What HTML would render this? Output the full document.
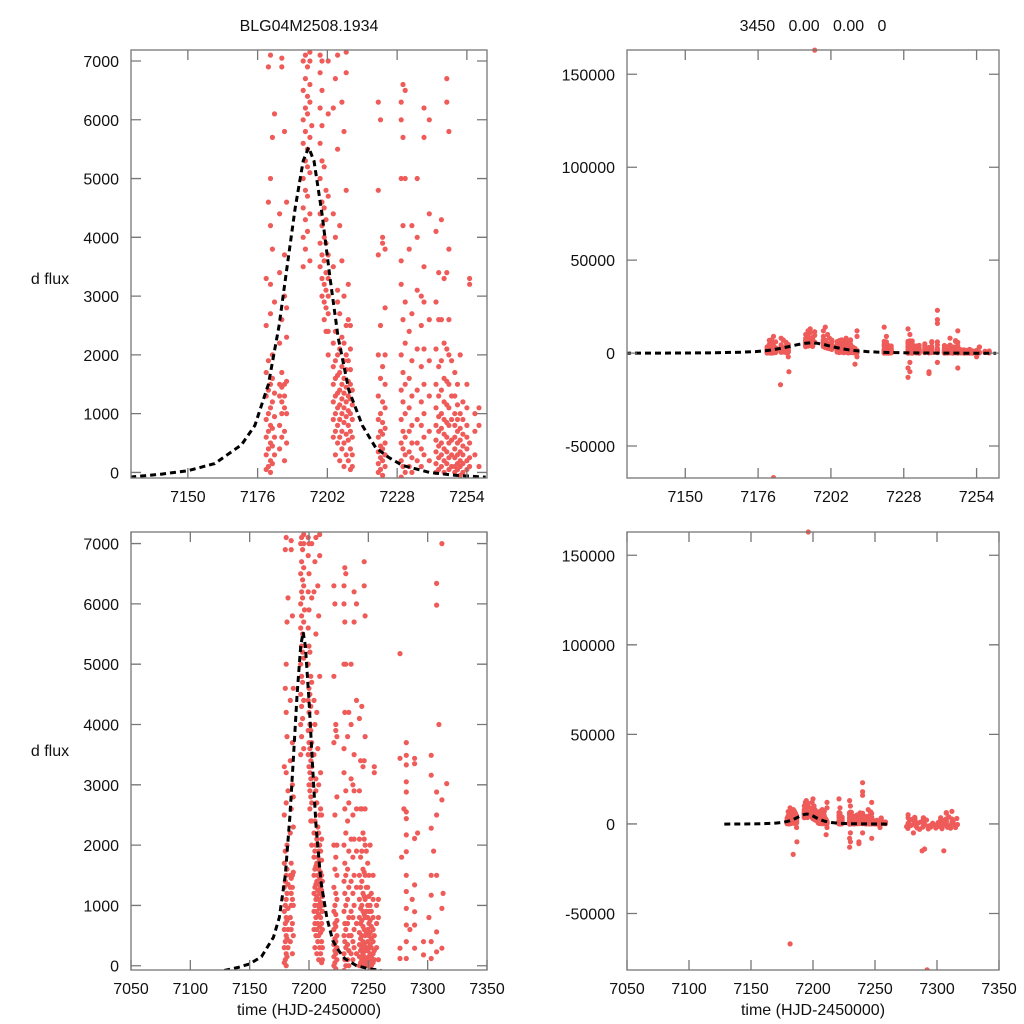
<!DOCTYPE html>
<html><head><meta charset="utf-8"><style>
html,body{margin:0;padding:0;background:#fff;overflow:hidden;width:1024px;height:1024px;}
svg{display:block;}
svg text{font-family:"Liberation Sans",Arial,sans-serif;fill:#111;}
</style></head><body>
<svg id="chart" width="1024" height="1024" viewBox="0 0 1024 1024" xmlns="http://www.w3.org/2000/svg">
<text x="309" y="31" font-size="16" text-anchor="middle">BLG04M2508.1934</text>
<text x="813" y="31" font-size="16" text-anchor="middle" xml:space="preserve">3450   0.00   0.00   0</text>
<text x="50" y="284" font-size="16" text-anchor="middle">d flux</text>
<text x="50" y="756" font-size="16" text-anchor="middle">d flux</text>
<text x="309" y="1015" font-size="16" text-anchor="middle">time (HJD-2450000)</text>
<text x="813" y="1015" font-size="16" text-anchor="middle">time (HJD-2450000)</text>
</svg>
<script>
// observation data: times and fluxes (one shared dataset, four views)
const obsTimes = [
7179.2,7179.2,7179.2,7179.2,7179.2,7179.2,7179.2,7179.2,
7180.0,7180.0,7180.0,7180.0,7180.0,7180.0,7180.0,7180.0,
7180.8,7180.8,7180.8,7180.8,7180.8,7180.8,7180.8,7180.8,7180.8,7180.8,7180.8,
7181.5,7181.5,7181.5,7181.5,7181.5,7181.5,7181.5,7181.5,7181.5,
7182.3,7182.3,7182.3,7182.3,7182.3,7182.3,
7184.2,7184.2,7184.2,7184.2,7184.2,7184.2,7184.2,7184.2,
7185.0,7185.0,7185.0,7185.0,7185.0,7185.0,7185.0,7185.0,
7186.0,7186.0,7186.0,7186.0,7186.0,7186.0,7186.0,7186.0,
7186.8,7186.8,7186.8,7186.8,7186.8,7186.8,7186.8,
7193.0,7193.0,7193.0,7193.0,7193.0,7193.0,7193.0,7193.0,7193.0,7193.0,
7193.8,7193.8,7193.8,7193.8,7193.8,7193.8,7193.8,7193.8,7193.8,7193.8,
7194.6,7194.6,7194.6,7194.6,7194.6,7194.6,7194.6,7194.6,7194.6,
7195.5,7195.5,7195.5,7195.5,7195.5,7195.5,7195.5,7195.5,7195.5,
7196.2,7196.2,7196.2,7196.2,
7199.3,7199.3,7199.3,7199.3,7199.3,7199.3,7199.3,7199.3,7199.3,7199.3,
7200.0,7200.0,7200.0,7200.0,7200.0,7200.0,7200.0,7200.0,7200.0,7200.0,
7200.8,7200.8,7200.8,7200.8,7200.8,7200.8,7200.8,7200.8,
7201.5,7201.5,7201.5,7201.5,7201.5,7201.5,7201.5,7201.5,
7202.3,7202.3,7202.3,7202.3,7202.3,7202.3,7202.3,7202.3,7202.3,
7204.2,7204.2,7204.2,7204.2,7204.2,7204.2,7204.2,7204.2,7204.2,
7205.0,7205.0,7205.0,7205.0,7205.0,7205.0,7205.0,7205.0,7205.0,
7205.8,7205.8,7205.8,7205.8,7205.8,7205.8,7205.8,7205.8,7205.8,7205.8,
7206.6,7206.6,7206.6,7206.6,7206.6,7206.6,7206.6,7206.6,7206.6,
7207.4,7207.4,7207.4,7207.4,7207.4,7207.4,7207.4,7207.4,7207.4,7207.4,
7208.2,7208.2,7208.2,7208.2,7208.2,7208.2,7208.2,7208.2,7208.2,7208.2,
7209.0,7209.0,7209.0,7209.0,7209.0,7209.0,7209.0,7209.0,7209.0,7209.0,7209.0,
7209.8,7209.8,7209.8,7209.8,7209.8,7209.8,7209.8,7209.8,7209.8,
7210.6,7210.6,7210.6,7210.6,7210.6,7210.6,7210.6,7210.6,7210.6,7210.6,
7211.3,7211.3,7211.3,7211.3,7211.3,7211.3,7211.3,7211.3,7211.3,
7221.0,7221.0,7221.0,7221.0,7221.0,7221.0,7221.0,7221.0,7221.0,7221.0,7221.0,
7221.8,7221.8,7221.8,7221.8,7221.8,7221.8,7221.8,7221.8,7221.8,
7222.6,7222.6,7222.6,7222.6,7222.6,7222.6,7222.6,7222.6,7222.6,
7223.5,7223.5,7223.5,7223.5,7223.5,7223.5,7223.5,7223.5,7223.5,
7229.5,7229.5,7229.5,7229.5,7229.5,7229.5,7229.5,7229.5,7229.5,7229.5,7229.5,7229.5,7229.5,7229.5,
7230.2,7230.2,7230.2,7230.2,7230.2,7230.2,7230.2,7230.2,7230.2,7230.2,7230.2,7230.2,
7231.0,7231.0,7231.0,7231.0,7231.0,7231.0,7231.0,7231.0,7231.0,
7232.5,7232.5,7232.5,7232.5,7232.5,7232.5,7232.5,
7233.5,7233.5,7233.5,7233.5,7233.5,7233.5,7233.5,7233.5,
7235.5,7235.5,7235.5,7235.5,7235.5,7235.5,7235.5,7235.5,
7237.0,7237.0,7237.0,7237.0,7237.0,7237.0,7237.0,7237.0,7237.0,
7238.0,7238.0,7238.0,7238.0,7238.0,7238.0,7238.0,7238.0,7238.0,
7240.0,7240.0,7240.0,7240.0,7240.0,7240.0,7240.0,7240.0,7240.0,7240.0,7240.0,
7242.5,7242.5,7242.5,7242.5,7242.5,7242.5,7242.5,7242.5,7242.5,7242.5,
7243.5,7243.5,7243.5,7243.5,7243.5,7243.5,7243.5,7243.5,7243.5,
7244.5,7244.5,7244.5,7244.5,7244.5,7244.5,7244.5,7244.5,7244.5,7244.5,
7245.5,7245.5,7245.5,7245.5,7245.5,7245.5,7245.5,7245.5,7245.5,
7246.5,7246.5,7246.5,7246.5,7246.5,7246.5,7246.5,7246.5,7246.5,7246.5,
7247.3,7247.3,7247.3,7247.3,7247.3,7247.3,7247.3,7247.3,7247.3,7247.3,7247.3,7247.3,
7248.3,7248.3,7248.3,7248.3,7248.3,7248.3,
7249.5,7249.5,7249.5,7249.5,7249.5,7249.5,7249.5,7249.5,7249.5,
7250.5,7250.5,7250.5,7250.5,7250.5,7250.5,7250.5,7250.5,
7251.5,7251.5,7251.5,7251.5,7251.5,7251.5,7251.5,7251.5,
7252.5,7252.5,7252.5,7252.5,7252.5,7252.5,7252.5,
7254.0,7254.0,7254.0,7254.0,7254.0,7254.0,7254.0,7254.0,
7255.0,7255.0,7255.0,7255.0,7255.0,
7257.0,7257.0,7257.0,
7258.5,7258.5,7258.5,
7181.5,7184.0,7187.0,
7276.7,7276.7,7276.7,7276.7,
7282.0,7282.0,7282.0,7282.0,7282.0,7282.0,7282.0,7282.0,7282.0,7282.0,7282.0,7282.0,7282.0,7282.0,7282.0,7281.0,
7289.0,7289.0,7289.0,7289.0,7289.0,7289.0,7289.0,7288.0,7290.0,7292.0,
7296.5,7296.5,
7303.0,7303.0,7303.0,7303.0,7303.0,7303.0,7303.0,
7307.5,7307.5,7307.5,7307.5,7307.5,7307.5,7307.5,7305.5,
7312.0,7312.0,7312.0,7312.0,
7316.0,
7275.5,7276.5,7278.0,7279.0,7280.0,7283.0,7284.0,7285.0,7286.0,7287.0,7288.5,7290.5,7291.5,7293.0,7294.0,
7295.0,7297.5,7299.0,7300.0,7301.0,7302.0,7304.0,7305.0,7306.0,7308.5,7309.5,7310.5,7311.0,7313.0,7314.0,7315.0,7316.5
];
const obsFlux = [
50,300,600,900,1300,1700,2500,3300,
100,400,700,1000,1400,1900,4600,6900,
0,200,500,800,1100,1500,2700,3200,4200,5000,7100,
150,450,750,1200,1600,2000,3800,5700,9000,
300,600,950,1350,2900,6100,
400,800,1300,1500,2200,3400,4400,8000,
600,1000,1200,1450,1700,2600,6900,7050,
200,700,1100,1300,1500,3000,3700,5800,
500,1000,1550,2300,2800,4600,-2000,
3500,4000,4500,5000,5600,6000,6500,7000,8000,10000,
3800,4300,4800,5300,5800,6200,6700,7100,9000,12000,
4100,4700,5200,5500,6100,6400,6900,11000,13000,
3600,4400,5100,5700,6300,6600,7000,7150,8500,
163000,5900,9500,11500,
3500,3900,4400,5000,5600,6200,6800,7100,9000,12000,
3000,3300,3700,4200,4600,5300,5900,6500,7000,14000,
2600,2900,3200,3600,4000,4500,5200,10000,
2400,2800,3100,3400,3900,4300,4800,8000,
2000,2400,2700,3000,3300,3700,4700,6100,7000,
600,900,1200,1500,1800,2200,3500,4400,6200,
300,700,1000,1300,1600,1900,2400,4000,6700,
500,800,1100,1350,1650,2000,2900,3100,5500,7100,
200,600,900,1150,1400,1700,2100,2700,4200,
400,700,1000,1250,1500,1800,2300,3600,6300,8000,
100,500,850,1100,1350,1600,1900,2200,3000,5800,
300,650,950,1200,1450,1750,2000,2500,4800,6800,7150,
200,550,800,1050,1300,1550,1900,2600,3200,
50,400,700,1000,1250,1500,1750,2100,2500,-6000,
100,300,600,900,1150,1400,9000,12000,-2000,
0,150,350,600,900,1300,2000,3700,4800,6300,14000,
50,250,450,700,1000,1600,2500,6000,9000,
-50,200,400,650,850,1200,1800,3900,4000,
100,300,500,750,1100,1500,2800,3800,2000,
-80,200,500,900,1400,2000,3200,3600,5000,6000,6300,13000,-13000,-8000,
100,400,700,1200,1700,2600,4200,5700,6600,10000,-10000,-5000,
0,300,600,1000,1500,2200,2900,6500,5000,
100,350,700,1100,1600,2400,3800,
0,250,500,800,1300,1900,2700,4200,
200,500,900,1400,2100,3100,4000,5000,
100,400,800,1200,1800,2500,3000,-10000,-11000,
300,600,1000,1500,2100,2900,3500,5700,6200,
200,700,1300,1900,2600,4400,6000,18000,23000,16000,-5000,
0,150,350,550,800,1100,1500,2100,2900,4100,
50,250,450,700,950,1300,1800,2600,3400,
100,300,500,750,1000,1400,1900,2600,4300,8000,
0,200,400,650,900,1200,1600,2200,3300,
150,350,600,850,1150,1550,2100,3400,6700,6300,
50,250,500,800,1100,1500,2000,2600,3800,5800,12000,-8000,
100,300,550,900,1300,1900,
0,100,250,400,600,800,1000,1300,1700,
50,150,300,500,700,900,1150,1500,
-50,100,200,350,550,750,1000,2000,
0,150,300,450,650,900,1200,
50,200,400,600,800,1100,1500,-2000,
100,250,500,3200,3300,
300,700,1000,
100,800,1100,
-67000,-17000,-10000,
5175,3440,290,120,
3700,3490,3330,3050,2880,2550,2440,2170,1890,1500,1230,950,675,400,120,-5000,
3440,3350,2110,1340,895,675,290,-15000,-14000,-81500,
400,180,
3490,3160,2280,1500,1170,400,120,
6340,5980,2880,2500,1500,560,230,-15000,
7000,2750,950,290,
3020,
-1500,-2500,1800,-800,2600,-1200,-2200,600,-3000,1100,-1800,-600,2200,-2800,-1000,
-1700,-400,-2300,-900,800,-1400,-2600,1900,-700,-1900,4000,-1100,-2400,1200,-500,-2000,-300
];
// model curve samples
const modelTimes = [7128.5,7140,7150,7160,7170,7175,7180,7184,7187,7190,7193,7195,7197,7200,7203,7206,7210,7215,7220,7225,7230,7240,7250,7261];
const modelFlux  = [-80,-30,30,150,470,800,1500,2500,3500,4500,5300,5530,5300,4400,3300,2300,1400,800,420,250,120,0,-50,-80];
// tick labels
const xTicksTop = [7150,7176,7202,7228,7254];
const xTicksBottom = [7050,7100,7150,7200,7250,7300,7350];
const yTicksLeft = [0,1000,2000,3000,4000,5000,6000,7000];
const yTicksRight = [-50000,0,50000,100000,150000];

const svg = document.getElementById('chart');
const NS = 'http://www.w3.org/2000/svg';
function mk(tag, attrs){ const e=document.createElementNS(NS,tag); for(const k in attrs) e.setAttribute(k,attrs[k]); return e; }

const panels = [
 {id:'top-left', x0:131,x1:487,y0:50,y1:478, tmin:7128.8,tmax:7261.5, fmin:-95,fmax:7187, xt:xTicksTop, yt:yTicksLeft},
 {id:'top-right', x0:627,x1:999,y0:50,y1:478, tmin:7129.2,tmax:7262, fmin:-67200,fmax:163060, xt:xTicksTop, yt:yTicksRight},
 {id:'bottom-left', x0:131,x1:487,y0:532,y1:970, tmin:7050,tmax:7350, fmin:-71,fmax:7192, xt:xTicksBottom, yt:yTicksLeft},
 {id:'bottom-right', x0:627,x1:999,y0:532,y1:970, tmin:7050,tmax:7350, fmin:-81560,fmax:163000, xt:xTicksBottom, yt:yTicksRight}
];
const defs = mk('defs',{}); svg.appendChild(defs);
panels.forEach((p,pi)=>{
  const sx = t => p.x0 + (t-p.tmin)/(p.tmax-p.tmin)*(p.x1-p.x0);
  const sy = f => p.y1 - (f-p.fmin)/(p.fmax-p.fmin)*(p.y1-p.y0);
  const cp = mk('clipPath',{id:'clip'+pi});
  cp.appendChild(mk('rect',{x:p.x0,y:p.y0-3,width:p.x1-p.x0,height:p.y1-p.y0+3}));
  defs.appendChild(cp);
  const g = mk('g',{});
  
  
  svg.appendChild(g);
  const pts = mk('g',{'clip-path':'url(#clip'+pi+')',fill:'#ee5b59'});
  
  
  g.appendChild(pts);
  const fpad = (p.fmax-p.fmin)*0.01, tpad = (p.tmax-p.tmin)*0.01;
  for(let i=0;i<obsTimes.length;i++){
    const t = obsTimes[i], f = obsFlux[i];
    if (f < p.fmin - fpad || f > p.fmax + fpad || t < p.tmin - tpad || t > p.tmax + tpad) continue;
    const c = mk('circle',{cx:sx(t).toFixed(1),cy:sy(f).toFixed(1),r:2.6});
    
    
    pts.appendChild(c);
  }
  let d='';
  for(let i=0;i<modelTimes.length;i++) d += (i?'L':'M')+sx(modelTimes[i]).toFixed(1)+' '+sy(modelFlux[i]).toFixed(1);
  const line = mk('path',{d:d,fill:'none',stroke:'#000','stroke-width':3,'stroke-dasharray':'6 4','clip-path':'url(#clip'+pi+')'});
  
  
  g.appendChild(line);
  const fr = mk('rect',{x:p.x0,y:p.y0,width:p.x1-p.x0,height:p.y1-p.y0,fill:'none',stroke:'#777','stroke-width':1.3});
  
  
  g.appendChild(fr);
  p.xt.forEach(t=>{
    const x=sx(t);
    const tk = mk('path',{d:`M${x} ${p.y1}V${p.y1-10}M${x} ${p.y0}V${p.y0+10}`,stroke:'#777','stroke-width':1.3});
    
    
    g.appendChild(tk);
    const tx = mk('text',{x:x,y:p.y1+24,'font-size':16,'text-anchor':'middle'});
    tx.textContent = t;
    
    
    g.appendChild(tx);
  });
  p.yt.forEach(f=>{
    const y=sy(f);
    const tk = mk('path',{d:`M${p.x0} ${y}H${p.x0+10}M${p.x1} ${y}H${p.x1-10}`,stroke:'#777','stroke-width':1.3});
    
    
    g.appendChild(tk);
    const tx = mk('text',{x:p.x0-12,y:y+6,'font-size':16,'text-anchor':'end'});
    tx.textContent = f;
    
    
    g.appendChild(tx);
  });
});
</script>
</body></html>
